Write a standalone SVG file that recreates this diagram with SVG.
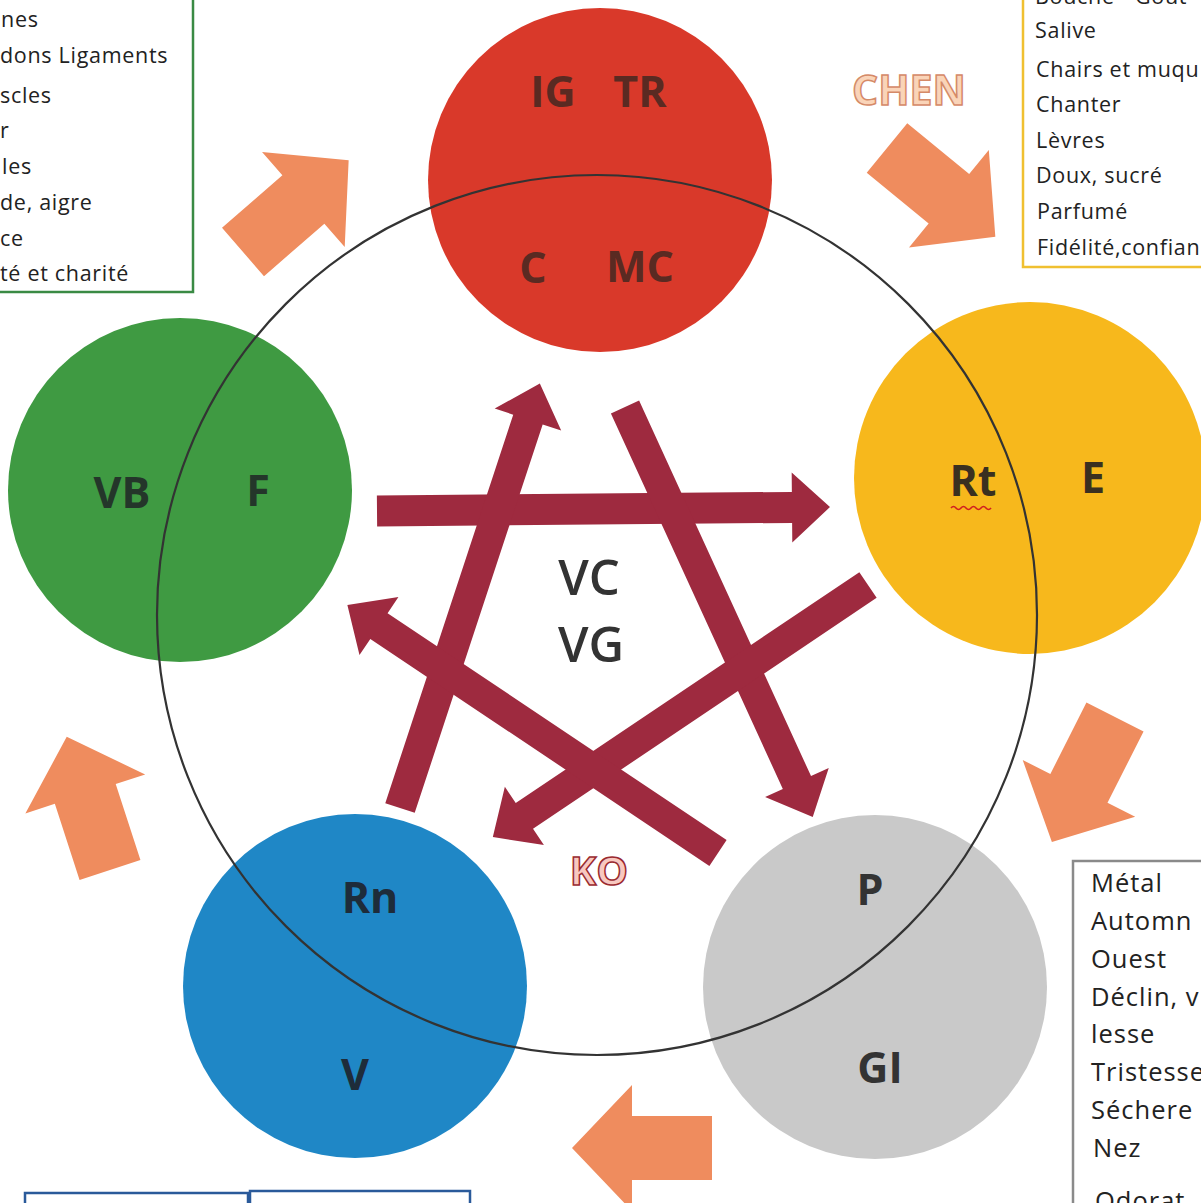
<svg xmlns="http://www.w3.org/2000/svg" width="1201" height="1203" viewBox="0 0 1201 1203">
<style>
.box{fill:#fff;stroke-width:2.5}
.bt{font-family:"Open Sans","Liberation Sans",sans-serif;font-size:21.5px;fill:#222;letter-spacing:0.7px}
.bt2{font-family:"Open Sans","Liberation Sans",sans-serif;font-size:25.5px;fill:#222;letter-spacing:1px}
.lbl{font-family:"Open Sans","Liberation Sans",sans-serif;font-size:43px;font-weight:700;text-anchor:middle}
.ctr{font-family:"Open Sans","Liberation Sans",sans-serif;font-size:49px;font-weight:600;fill:#333;text-anchor:middle}
.ko{fill:#9e2a3f}
.chen{fill:#ef8c5e}
.ring{fill:none;stroke:#333;stroke-width:2.2}
</style>

<g id="box-wood">
<rect class="box" x="-10" y="-10" width="203" height="302" stroke="#3a8a44"/>
<text class="bt" x="1" y="27">nes</text>
<text class="bt" x="0" y="63">dons Ligaments</text>
<text class="bt" x="0" y="103">scles</text>
<text class="bt" x="0" y="138">r</text>
<text class="bt" x="2" y="174">les</text>
<text class="bt" x="0" y="210">de, aigre</text>
<text class="bt" x="0" y="246">ce</text>
<text class="bt" x="0" y="281">té et charité</text>
</g>

<g id="box-earth">
<rect class="box" x="1023" y="-10" width="200" height="277" stroke="#f0c030"/>
<text class="bt" x="1035" y="4">Bouche - Gout</text>
<text class="bt" x="1035" y="38">Salive</text>
<text class="bt" x="1036" y="77">Chairs et muqu</text>
<text class="bt" x="1036" y="112">Chanter</text>
<text class="bt" x="1036" y="148">Lèvres</text>
<text class="bt" x="1036" y="183">Doux, sucré</text>
<text class="bt" x="1037" y="219">Parfumé</text>
<text class="bt" x="1037" y="255">Fidélité,confian</text>
</g>

<g id="box-metal">
<rect class="box" x="1073" y="861" width="150" height="360" stroke="#8a8a8a"/>
<text class="bt2" x="1091" y="892">Métal</text>
<text class="bt2" x="1091" y="930">Automn</text>
<text class="bt2" x="1091" y="968">Ouest</text>
<text class="bt2" x="1091" y="1006">Déclin, v</text>
<text class="bt2" x="1091" y="1043">lesse</text>
<text class="bt2" x="1091" y="1081">Tristesse</text>
<text class="bt2" x="1091" y="1119">Séchere</text>
<text class="bt2" x="1093" y="1157">Nez</text>
<text class="bt2" x="1095" y="1210">Odorat</text>
</g>

<g id="box-water">
<rect class="box" x="25" y="1193" width="223" height="30" stroke="#2a5a9a"/>
<rect class="box" x="250" y="1191" width="220" height="30" stroke="#2a5a9a"/>
</g>

<g id="node-fire">
<circle cx="600" cy="180" r="172" fill="#d9392a"/>
<text class="lbl" x="553" y="107" fill="#5a2a22">IG</text>
<text class="lbl" x="640" y="107" fill="#5a2a22">TR</text>
<text class="lbl" x="533" y="283" fill="#5a2a22">C</text>
<text class="lbl" x="640" y="282" fill="#5a2a22">MC</text>
</g>

<g id="node-earth">
<circle cx="1030" cy="478" r="176" fill="#f7b81c"/>
<text class="lbl" x="973" y="496" fill="#3a3020">Rt</text>
<path d="M951 508 q2.5 -3 5 0 t5 0 t5 0 t5 0 t5 0 t5 0 t5 0 t5 0" fill="none" stroke="#d02020" stroke-width="1.6"/>
<text class="lbl" x="1093" y="493" fill="#3a3020">E</text>
</g>

<g id="node-wood">
<circle cx="180" cy="490" r="172" fill="#3f9a42"/>
<text class="lbl" x="122" y="508" fill="#24362a">VB</text>
<text class="lbl" x="258" y="506" fill="#24362a">F</text>
</g>

<g id="node-water">
<circle cx="355" cy="986" r="172" fill="#1f87c6"/>
<text class="lbl" x="370" y="913" fill="#1e2c3a">Rn</text>
<text class="lbl" x="355" y="1090" fill="#1e2c3a">V</text>
</g>

<g id="node-metal">
<circle cx="875" cy="987" r="172" fill="#c9c9c9"/>
<text class="lbl" x="870" y="905" fill="#333">P</text>
<text class="lbl" x="880" y="1083" fill="#333">GI</text>
</g>

<circle class="ring" cx="597" cy="615" r="440"/>

<g id="node-center">
<text class="ctr" x="589" y="595">VC</text>
<text class="ctr" x="591" y="662">VG</text>
</g>

<g id="connectors">
<g id="ko-cycle">
<polygon class="ko" transform="translate(377,511) rotate(-0.5)" points="0,-15.5 415,-15.5 415,-35 453,0 415,35 415,15.5 0,15.5"/>
<polygon class="ko" transform="translate(400,808) rotate(-71.77)" points="0,-15.5 409,-15.5 409,-35 447,0 409,35 409,15.5 0,15.5"/>
<polygon class="ko" transform="translate(625,407) rotate(65.4)" points="0,-15.5 413,-15.5 413,-35 451,0 413,35 413,15.5 0,15.5"/>
<polygon class="ko" transform="translate(868,585) rotate(146.1)" points="0,-15.5 414,-15.5 414,-35 452,0 414,35 414,15.5 0,15.5"/>
<polygon class="ko" transform="translate(718,853) rotate(-146.2)" points="0,-15.5 408,-15.5 408,-35 446,0 408,35 408,15.5 0,15.5"/>
<text x="599" y="885" font-family="Open Sans, Liberation Sans, sans-serif" font-size="40" font-weight="700" text-anchor="middle" fill="#f8c8c0" stroke="#9a2a30" stroke-width="1.5">KO</text>
</g>
<g id="chen-cycle">
<polygon class="chen" transform="translate(243,252) rotate(-41)" points="0,-32 80,-32 80,-63 140,0 80,63 80,32 0,32"/>
<polygon class="chen" transform="translate(887,148) rotate(39.3)" points="0,-32 80,-32 80,-63 140,0 80,63 80,32 0,32"/>
<polygon class="chen" transform="translate(1115,717) rotate(116.8)" points="0,-32 80,-32 80,-63 140,0 80,63 80,32 0,32"/>
<polygon class="chen" transform="translate(712,1148) rotate(180)" points="0,-32 80,-32 80,-63 140,0 80,63 80,32 0,32"/>
<polygon class="chen" transform="translate(110,870) rotate(-108)" points="0,-32 80,-32 80,-63 140,0 80,63 80,32 0,32"/>
<text x="909" y="105" font-family="Open Sans, Liberation Sans, sans-serif" font-size="41" font-weight="700" text-anchor="middle" fill="#fad4b8" stroke="#d58a68" stroke-width="1.5">CHEN</text>
</g>
</g>
</svg>
